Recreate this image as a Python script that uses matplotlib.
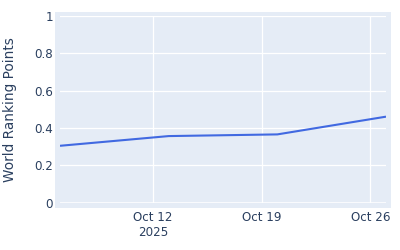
import numpy as np
import pandas as pd
import matplotlib
matplotlib.use("Agg")
import matplotlib.pyplot as plt
import matplotlib.dates as mdates

# -------------------------
# Data
# -------------------------
week_dates = ["2025-10-06", "2025-10-13", "2025-10-20", "2025-10-27"]
ranking_points = [0.305, 0.357, 0.366, 0.461]

tick_dates = ["2025-10-12", "2025-10-19", "2025-10-26"]
tick_labels = ["Oct 12\n2025", "Oct 19", "Oct 26"]

y_ticks = [0, 0.2, 0.4, 0.6, 0.8, 1]
y_tick_labels = ["0", "0.2", "0.4", "0.6", "0.8", "1"]

# -------------------------
# Style
# -------------------------
BG = "#E5ECF6"
TEXT = "#2a3f5f"
LINE = "#4169E1"

plt.rcParams["font.family"] = ["DejaVu Sans"]

fig = plt.figure(figsize=(4, 2.5), dpi=100)
fig.patch.set_facecolor("white")

# plot background is a little larger than the gridded area
bg_ax = fig.add_axes([0.1375, 0.168, 0.84, 0.784])
bg_ax.set_facecolor(BG)
bg_ax.set_xticks([])
bg_ax.set_yticks([])
for s in bg_ax.spines.values():
    s.set_visible(False)

ax = fig.add_axes([0.15, 0.189, 0.815, 0.747])
ax.set_facecolor("none")

x = pd.to_datetime(week_dates)
ax.plot(x, ranking_points, color=LINE, linewidth=1.5, zorder=3, solid_capstyle="butt")

ax.set_xlim(x[0], x[-1])
ax.set_ylim(0, 1)

ax.set_xticks(mdates.date2num(pd.to_datetime(tick_dates)))
ax.set_xticklabels(tick_labels)
ax.set_yticks(y_ticks)
ax.set_yticklabels(y_tick_labels)

ax.grid(True, color="white", linewidth=0.9, zorder=1)
ax.axhline(0, color="white", linewidth=1.8, zorder=2)
ax.set_axisbelow(True)

for s in ax.spines.values():
    s.set_visible(False)

ax.tick_params(axis="both", length=0, labelsize=8.6, colors=TEXT)
ax.tick_params(axis="x", pad=6)
ax.tick_params(axis="y", pad=5)
for lbl in ax.get_xticklabels():
    lbl.set_linespacing(1.2)

ax.set_ylabel("World Ranking Points", fontsize=9.8, color=TEXT)
ax.yaxis.set_label_coords(-0.132, 0.5)

fig.savefig("out.png", dpi=100)
